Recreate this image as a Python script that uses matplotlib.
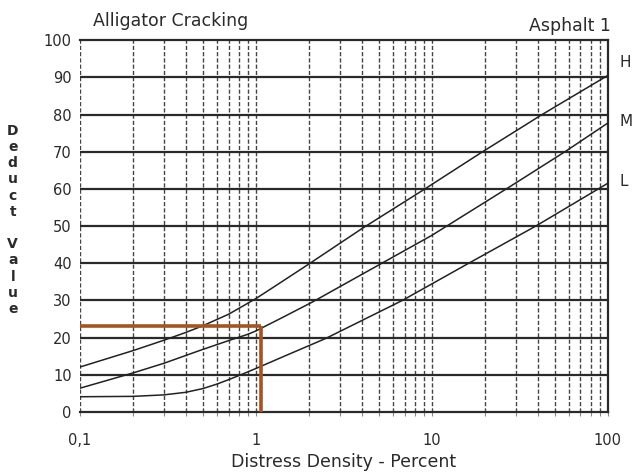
import matplotlib
matplotlib.use("Agg")
import matplotlib.pyplot as plt

# ---- data ----
h_x = [0.1, 0.2, 0.3, 0.4, 0.5, 0.7, 1.0, 1.4, 2, 4, 9, 19, 42, 100]
h_y = [12.1, 16.5, 19.3, 21.4, 23.2, 26.3, 30.5, 35.0, 39.8, 49.3, 59.8, 69.7, 79.9, 90.5]

m_x = [0.1, 0.2, 0.3, 0.49, 0.7, 0.9, 1.0, 1.4, 2.1, 4, 10, 28, 58, 100]
m_y = [6.4, 10.5, 13.1, 16.7, 19.2, 20.9, 21.8, 25.3, 29.6, 37.0, 47.5, 60.7, 70.2, 77.7]

l_x = [0.1, 0.2, 0.3, 0.4, 0.5, 0.6, 0.7, 0.82, 1.0, 1.5, 2.5, 6.8, 16.2, 39, 100]
l_y = [4.1, 4.2, 4.6, 5.3, 6.3, 7.5, 8.7, 10.0, 11.7, 15.3, 19.8, 30, 40, 50, 61.5]

curve_labels = ["H", "M", "L"]
curve_label_y = [94, 78, 62]

read_x = 1.07   # red reading line
read_y = 23

y_ticks = list(range(0, 101, 10))
x_ticks = [0.1, 1, 10, 100]
x_tick_labels = ["0,1", "1", "10", "100"]
minor_x = [0.1 * k for k in range(2, 10)] + [float(k) for k in range(2, 10)] + [10.0 * k for k in range(2, 10)]

ink = "#2a2a2a"
fig = plt.figure(figsize=(6.35, 4.73), dpi=100)
ax = fig.add_axes([0.126, 0.129, 0.831, 0.786])
ax.set_xscale("log")
ax.set_xlim(0.1, 100)
ax.set_ylim(0, 100)

# vertical dashed grid
for xv in minor_x + [1.0, 10.0, 0.1]:
    ax.axvline(xv, color="#444444", lw=1.0, ls=(0, (3, 1.5)), zorder=1)
# horizontal solid grid
for yv in y_ticks[1:-1]:
    ax.axhline(yv, color=ink, lw=1.6, zorder=2)

for xs, ys in [(h_x, h_y), (m_x, m_y), (l_x, l_y)]:
    ax.plot(xs, ys, color="#222222", lw=1.1, zorder=3)

# reading lines
ax.plot([0.1, read_x], [read_y, read_y], color="#a5541f", lw=2.6, zorder=4, solid_capstyle="butt")
ax.plot([read_x, read_x], [0, read_y], color="#a5541f", lw=2.6, zorder=4, solid_capstyle="butt")

for sp in ["top", "bottom", "right"]:
    ax.spines[sp].set_color(ink)
    ax.spines[sp].set_linewidth(1.6)
ax.spines["left"].set_visible(False)

ax.set_yticks(y_ticks)
ax.set_yticklabels([str(v) for v in y_ticks], fontsize=10.5, color=ink)
ax.tick_params(axis="y", length=0, pad=6)
ax.set_xticks(x_ticks)
ax.set_xticklabels(x_tick_labels, fontsize=10.5, color=ink)
ax.set_xticks(minor_x, minor=True)
ax.xaxis.set_minor_formatter(matplotlib.ticker.NullFormatter())
ax.tick_params(axis="x", which="both", length=3, width=0.8, color="#888888", pad=12)

ax.set_xlabel("Distress Density - Percent", fontsize=12.5, color=ink, labelpad=4)

fig.text(0.146, 0.955, "Alligator Cracking", fontsize=12.5, color=ink, ha="left", va="center")
fig.text(0.962, 0.945, "Asphalt 1", fontsize=12.5, color=ink, ha="right", va="center")

for lab, yv in zip(curve_labels, curve_label_y):
    ax.text(1.022, yv, lab, transform=ax.get_yaxis_transform(), fontsize=11, color=ink,
            ha="left", va="center", clip_on=False)

fig.text(0.02, 0.535, "D\ne\nd\nu\nc\nt\n\nV\na\nl\nu\ne", fontsize=10, color=ink,
         ha="center", va="center", linespacing=1.2, fontweight="bold")

fig.savefig("out.png", dpi=100, facecolor="white")
